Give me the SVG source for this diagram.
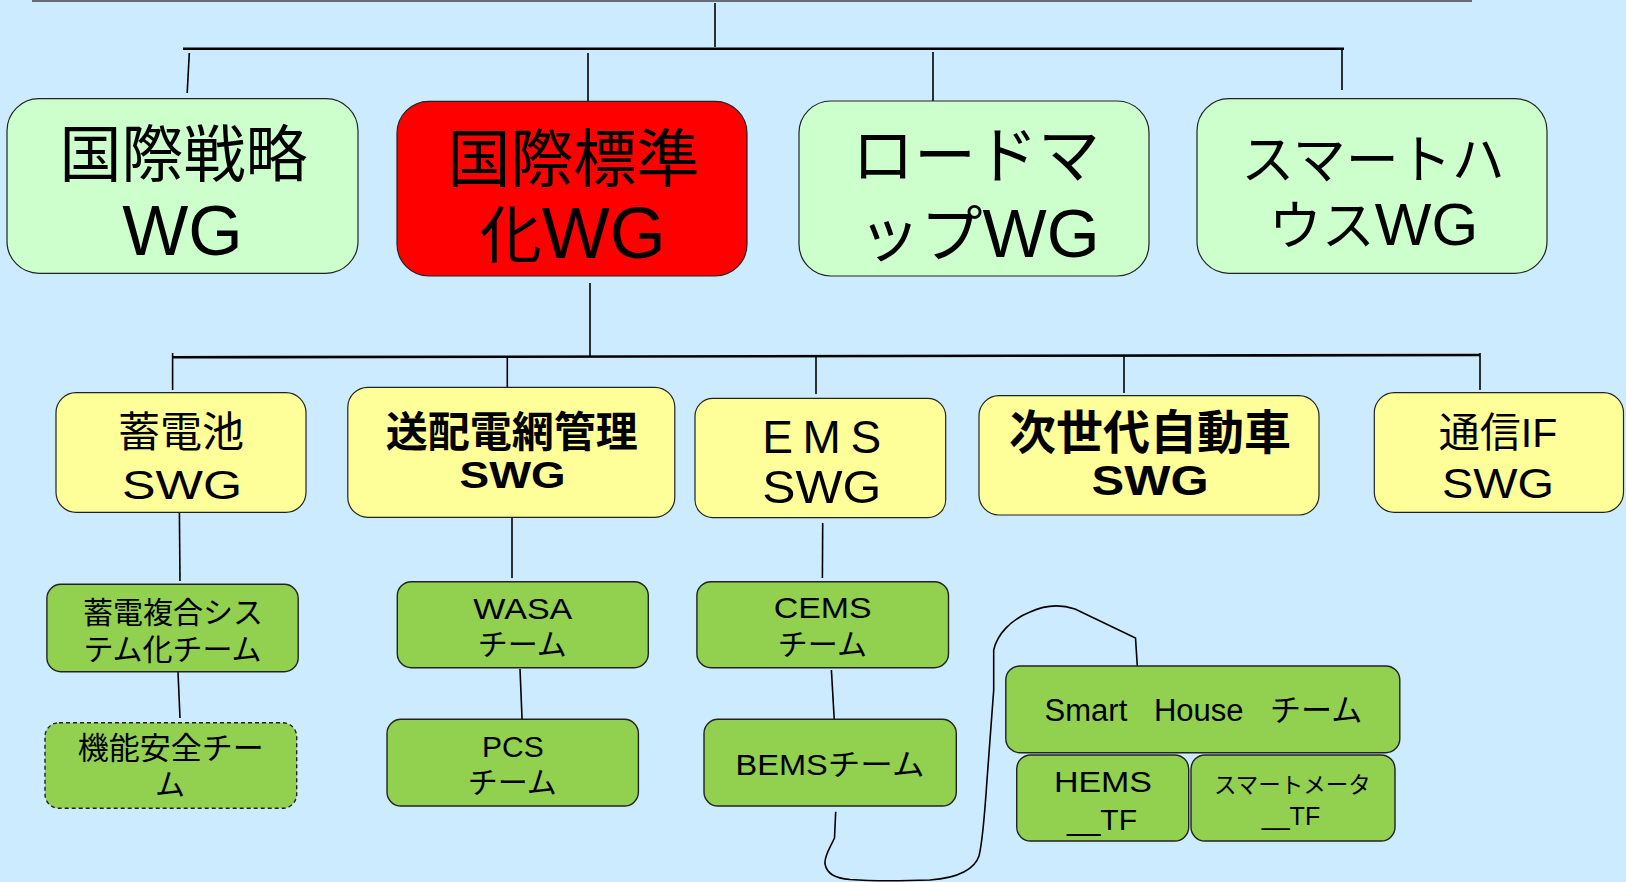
<svg xmlns="http://www.w3.org/2000/svg" width="1626" height="882" viewBox="0 0 1626 882">
<defs>
<style>
.bg{fill:#cdebff}
.wg{fill:#ccffcc;stroke:#222;stroke-width:1.2}
.red{fill:#ff0000;stroke:#222;stroke-width:1.2}
.swg{fill:#ffff99;stroke:#222;stroke-width:1.2}
.team{fill:#92d050;stroke:#222;stroke-width:1.4}
.dash{stroke-dasharray:4 3}
.c{fill:none;stroke:#000;stroke-width:1.6}
.bar{fill:none;stroke:#000;stroke-width:2.6}
text{font-family:"Liberation Sans","Noto Sans CJK JP",sans-serif;fill:#000;text-anchor:middle}
.b{font-weight:bold}
</style>
</defs>
<rect class="bg" x="0" y="0" width="1626" height="882"/>
<line x1="32" y1="1" x2="1472" y2="1" stroke="#444" stroke-width="1.6"/>

<g id="connectors">
<line class="c" x1="715" y1="3" x2="715" y2="47"/>
<line class="bar" x1="183" y1="48.7" x2="1344" y2="48.7"/>
<line class="c" x1="189.3" y1="53" x2="187.2" y2="93"/>
<line class="c" x1="588" y1="53" x2="588" y2="101"/>
<line class="c" x1="933" y1="52" x2="933" y2="111"/>
<line class="c" x1="1342" y1="48" x2="1342" y2="90"/>
<line class="c" x1="590" y1="283" x2="590" y2="357"/>
<line class="bar" x1="172" y1="357.3" x2="1480" y2="355"/>
<line class="c" x1="172.6" y1="353" x2="172.6" y2="390"/>
<line class="c" x1="1480" y1="353" x2="1480" y2="390"/>
<line class="c" x1="507.3" y1="357" x2="507.3" y2="394"/>
<line class="c" x1="816" y1="357" x2="816" y2="394"/>
<line class="c" x1="1124" y1="356" x2="1124" y2="393"/>
<line class="c" x1="179.4" y1="512" x2="180" y2="581"/>
<line class="c" x1="177.7" y1="665" x2="180" y2="718"/>
<line class="c" x1="512" y1="517" x2="512" y2="578"/>
<line class="c" x1="520" y1="669" x2="522.3" y2="725"/>
<line class="c" x1="822.7" y1="523" x2="822.4" y2="578"/>
<line class="c" x1="831.4" y1="670" x2="834.5" y2="724"/>
<path class="c" d="M835.7,811.7 L834.5,838 C830,848 824,856 825,864 C827,874 835,878 850,879.5 C870,881 900,881 930,880 C960,878 975,868 979,856 C983,840 985,810 987,780 L993.7,690 L993.7,650 C997,635 1010,620 1030,612 C1045,605 1060,604 1075,609 L1135.5,638 L1137.3,666"/>
</g>

<g id="n-kokusai-senryaku">
<rect class="wg" x="7" y="98.7" width="351" height="174.6" rx="32"/>
<text x="183.6" y="176.5" font-size="62">国際戦略</text>
<text x="182.5" y="255" font-size="70">WG</text>
</g>
<g id="n-kokusai-hyojunka">
<rect class="red" x="397" y="101.3" width="350" height="174.7" rx="32"/>
<text x="573.5" y="180.5" font-size="63">国際標準</text>
<text x="572.7" y="258.3"><tspan font-size="62">化</tspan><tspan font-size="72">WG</tspan></text>
</g>
<g id="n-roadmap">
<rect class="wg" x="799" y="101" width="350" height="175" rx="32"/>
<text x="976" y="178" font-size="62">ロードマ</text>
<text x="979" y="256.7"><tspan font-size="62">ップ</tspan><tspan font-size="68">WG</tspan></text>
</g>
<g id="n-smarthouse-wg">
<rect class="wg" x="1197" y="98.7" width="350" height="174.6" rx="32"/>
<text x="1373" y="179" font-size="53">スマートハ</text>
<text x="1373.5" y="245"><tspan font-size="53">ウス</tspan><tspan font-size="60">WG</tspan></text>
</g>

<g id="n-chikuden">
<rect class="swg" x="56" y="392.7" width="250" height="119.6" rx="20"/>
<text x="181" y="447" font-size="42">蓄電池</text>
<text x="182" y="499.3" font-size="41" textLength="120" lengthAdjust="spacingAndGlyphs">SWG</text>
</g>
<g id="n-sohaiden">
<rect class="swg" x="347.8" y="387.3" width="327" height="130" rx="20"/>
<text class="b" x="511.8" y="447" font-size="42">送配電網管理</text>
<text class="b" x="512.6" y="488.3" font-size="37" textLength="106" lengthAdjust="spacingAndGlyphs">SWG</text>
</g>
<g id="n-ems">
<rect class="swg" x="695" y="398.3" width="250.7" height="119.4" rx="18"/>
<text x="821.7" y="452.7" font-size="46" textLength="119" lengthAdjust="spacing">EMS</text>
<text x="821.7" y="503.3" font-size="47" textLength="119" lengthAdjust="spacingAndGlyphs">SWG</text>
</g>
<g id="n-jisedai">
<rect class="swg" x="979" y="395.7" width="340" height="119.3" rx="20"/>
<text class="b" x="1150" y="449" font-size="47">次世代自動車</text>
<text class="b" x="1150" y="495" font-size="42" textLength="117" lengthAdjust="spacingAndGlyphs">SWG</text>
</g>
<g id="n-tsushin">
<rect class="swg" x="1374.3" y="392.7" width="249.2" height="119.6" rx="20"/>
<text x="1498" y="447" font-size="41">通信IF</text>
<text x="1498" y="498.3" font-size="42" textLength="112" lengthAdjust="spacingAndGlyphs">SWG</text>
</g>

<g id="n-chikuden-fukugo">
<rect class="team" x="46.9" y="584.3" width="251.3" height="87.4" rx="14"/>
<text x="173" y="622.5" font-size="30">蓄電複合シス</text>
<text x="172.5" y="659.5" font-size="30">テム化チーム</text>
</g>
<g id="n-kino-anzen">
<rect class="team dash" x="45" y="722.7" width="251.7" height="85.6" rx="14"/>
<text x="170.7" y="759" font-size="31">機能安全チー</text>
<text x="170" y="795" font-size="30">ム</text>
</g>
<g id="n-wasa">
<rect class="team" x="397.3" y="581.7" width="251" height="86" rx="14"/>
<text x="522.8" y="619" font-size="30" textLength="99" lengthAdjust="spacingAndGlyphs">WASA</text>
<text x="522.3" y="655" font-size="30">チーム</text>
</g>
<g id="n-pcs">
<rect class="team" x="387" y="719.3" width="251.4" height="86.7" rx="14"/>
<text x="512.8" y="756.7" font-size="30">PCS</text>
<text x="512.3" y="793" font-size="30">チーム</text>
</g>
<g id="n-cems">
<rect class="team" x="696.9" y="581.7" width="251.6" height="86" rx="14"/>
<text x="822.7" y="618.3" font-size="29" textLength="98" lengthAdjust="spacingAndGlyphs">CEMS</text>
<text x="822.4" y="655" font-size="30">チーム</text>
</g>
<g id="n-bems">
<rect class="team" x="704" y="719.3" width="252.3" height="86.7" rx="14"/>
<text x="830" y="775" font-size="30" textLength="189" lengthAdjust="spacingAndGlyphs">BEMSチーム</text>
</g>
<g id="n-smarthouse-team">
<rect class="team" x="1005.8" y="666" width="394" height="86.7" rx="14"/>
<text x="1203.4" y="721" font-size="31" word-spacing="18">Smart House チーム</text>
</g>
<g id="n-hems">
<rect class="team" x="1016.7" y="755" width="172" height="86" rx="14"/>
<text x="1103" y="791.7" font-size="29" textLength="98" lengthAdjust="spacingAndGlyphs">HEMS</text>
<text x="1102" y="830" font-size="30">__TF</text>
</g>
<g id="n-smartmeter">
<rect class="team" x="1191" y="755" width="204" height="86" rx="14"/>
<text x="1292.4" y="793" font-size="22.5">スマートメータ</text>
<text x="1291" y="825" font-size="25">__TF</text>
</g>
</svg>
